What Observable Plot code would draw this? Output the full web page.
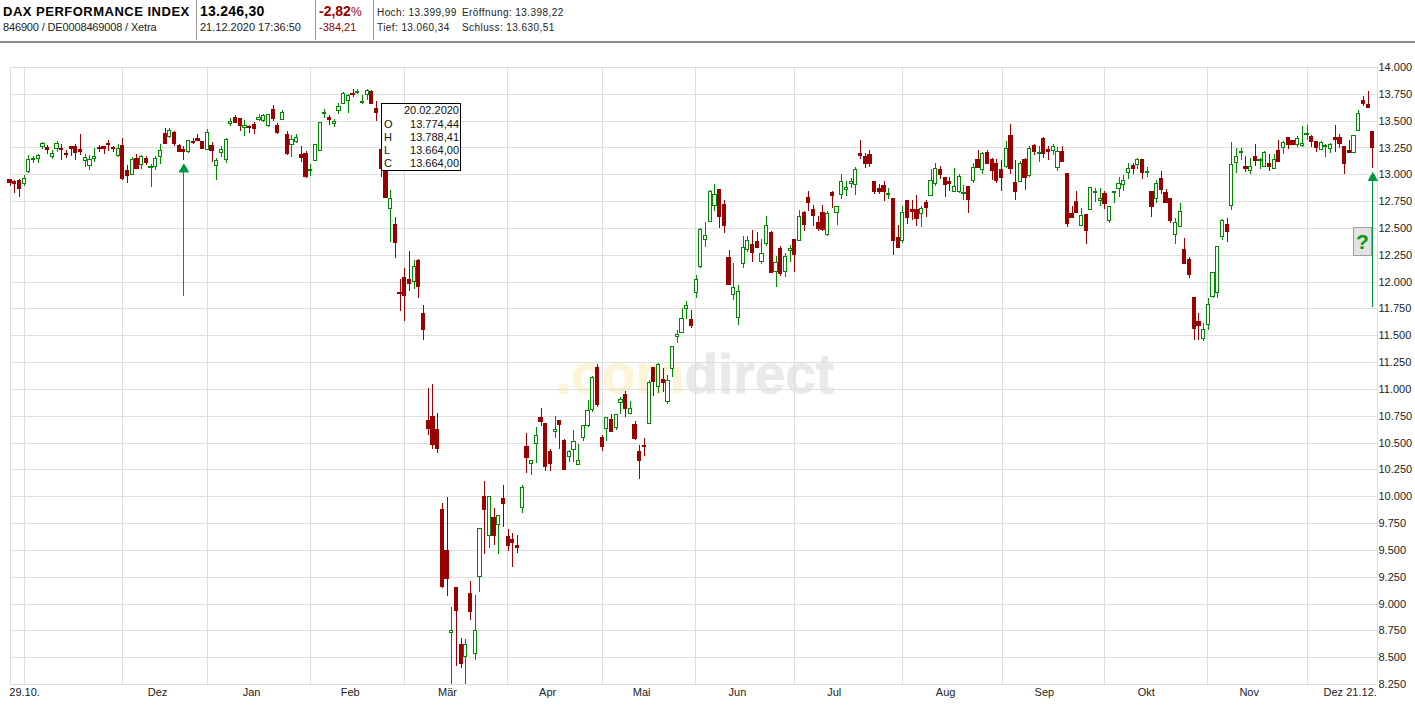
<!DOCTYPE html>
<html lang="de">
<head>
<meta charset="utf-8">
<title>DAX Performance Index</title>
<script src="https://cdn.jsdelivr.net/npm/d3@7"></script>
<script src="https://cdn.jsdelivr.net/npm/@observablehq/plot@0.6"></script>
<style>
html,body{margin:0;padding:0;background:#fff;}
#root{position:relative;width:1415px;height:705px;overflow:hidden;font-family:"Liberation Sans",Arial,sans-serif;color:#000;}
#head{position:relative;height:41px;border-bottom:2px solid #8c8c8c;}
#head span,#head i{position:absolute;white-space:nowrap;font-style:normal;}
#head i{top:0;width:1px;height:40px;background:#999;}
.s{font-size:10px;letter-spacing:.42px;color:#222;}
.m{font-size:11px;color:#222;}
#wm{position:absolute;left:556px;top:339px;font:bold 55px "Liberation Sans",Arial,sans-serif;white-space:nowrap;filter:blur(.6px);z-index:0;line-height:70px;-webkit-text-stroke:.8px;}
#wm b:first-child{color:#fdf4d8;}#wm b:last-child{color:#e9e9e9;}
#chart{position:relative;z-index:1;}
#tip{position:absolute;left:381px;top:103px;width:78px;height:66px;border:1px solid #000;background:#fff;z-index:2;font-size:11px;line-height:13px;color:#111;}
#tip div{display:flex;justify-content:space-between;padding:0 1px 0 2px;}
#tip div:first-child{justify-content:flex-end;margin-bottom:1px;}
#q{position:absolute;left:1353px;top:227px;width:17px;height:27px;background:#e2e2e2;border:1px solid #a0a0a0;z-index:2;color:#0a9a12;font:bold 21px/27px "Liberation Sans",Arial,sans-serif;text-align:center;}
</style>
</head>
<body>
<div id="root">
  <div id="head">
    <span style="left:3px;top:4px;font-size:13px;font-weight:bold;letter-spacing:.5px">DAX PERFORMANCE INDEX</span>
    <span class="m" style="left:3px;top:21px;letter-spacing:-.15px">846900 / DE0008469008 / Xetra</span>
    <i style="left:196px"></i>
    <span style="left:200px;top:3px;font-size:14px;font-weight:bold;letter-spacing:.25px">13.246,30</span>
    <span class="m" style="left:200px;top:21px">21.12.2020 17:36:50</span>
    <i style="left:315px"></i>
    <span style="left:319px;top:3px;font-size:14px;font-weight:bold;color:#990000">-2,82<span style="position:static;font-weight:normal;font-size:12px">%</span></span>
    <span class="m" style="left:319px;top:21px;color:#990000">-384,21</span>
    <i style="left:373px"></i>
    <span class="s" style="left:377px;top:7px">Hoch: 13.399,99</span>
    <span class="s" style="left:462px;top:7px">Eröffnung: 13.398,22</span>
    <span class="s" style="left:377px;top:22px">Tief: 13.060,34</span>
    <span class="s" style="left:462px;top:22px">Schluss: 13.630,51</span>
  </div>
  <div id="wm"><b>.com</b><b>direct</b></div>
  <div id="chart"></div>
  <div id="tip">
    <div><span>20.02.2020</span></div>
    <div><span>O</span><span>13.774,44</span></div>
    <div><span>H</span><span>13.788,41</span></div>
    <div><span>L</span><span>13.664,00</span></div>
    <div><span>C</span><span>13.664,00</span></div>
  </div>
  <div id="q">?</div>
</div>
<script>
const highs = [
12957,12947,12957,12991,13176,13170,13185,13297,13275,13226,
13306,13278,13226,13263,13278,13374,13185,13176,13241,13269,
13263,13318,13266,13287,13337,13087,13158,13189,13179,13173,
13096,13173,13287,13430,13430,13402,13287,13263,13321,13334,
13380,13315,13426,13303,13148,13266,13334,13522,13550,13528,
13504,13464,13485,13559,13565,13562,13643,13482,13603,13402,
13365,13371,13263,13216,13096,13284,13491,13606,13556,13519,
13667,13763,13745,13791,13794,13735,13791,13788,13683,13287,
13040,12855,12602,12021,12129,12281,12206,12213,11780,11011,
11048,10779,9941,9997,8972,9158,8679,8670,9211,9080,
9705,10143,10000,9892,9826,10106,9696,9659,9634,10109,
10593,10342,10648,10818,10679,10438,10750,10707,10531,10429,
10614,10485,10658,10899,11124,11232,10574,10732,10769,10760,
10920,10982,10883,10698,10475,10546,11087,11198,11242,11195,
11134,11397,11549,11752,11817,11734,12058,12503,12556,12852,
12911,12862,12763,12299,12170,11966,12429,12429,12482,12460,
12398,12615,12475,12234,12336,12262,12343,12392,12669,12660,
12846,12710,12608,12716,12660,12846,12706,13003,12938,12963,
13065,13318,13198,13226,12935,12910,12935,12870,12771,12530,
12706,12765,12762,12805,12706,12762,13046,13105,13077,12975,
12975,13059,13000,12901,12886,13105,13226,13207,13226,13148,
13142,13136,13309,13467,13136,13124,13155,13263,13285,13263,
13346,13263,13285,13254,13266,13006,12707,12840,12688,12633,
12883,12874,12874,12849,12697,12846,12979,12997,13108,13108,
13155,13136,13071,12849,12951,13034,12861,12775,12589,12728,
12402,12226,11855,11706,11614,11846,12083,12324,12587,12596,
13303,13244,13247,13173,13148,13278,13154,13216,13192,13185,
13318,13309,13349,13324,13358,13448,13463,13364,13309,13312,
13284,13296,13457,13380,13266,13318,13368,13596,13729,13772,13400];
const lows = [
12892,12830,12793,12895,13015,13108,13108,13232,13189,13139,
13207,13133,13155,13170,13133,13179,13071,13040,13117,13204,
13189,13216,13207,13161,12947,12923,12997,13053,13049,13090,
12886,13040,13096,13278,13340,13266,13210,13133,13201,13281,
13309,13241,13226,13117,12951,13158,13108,13451,13479,13405,
13358,13386,13380,13498,13488,13445,13494,13377,13504,13179,
13161,13290,13111,12969,12985,13127,13219,13525,13457,13439,
13559,13655,13572,13720,13751,13652,13695,13664,13497,12978,
12778,12367,12219,11727,11635,11913,11931,11848,11459,10569,
10439,10399,9143,9068,8254,8421,8403,8254,8844,8477,
9105,9460,9522,9543,9460,9711,9494,9338,9469,9842,
10219,10197,10312,10651,10237,10237,10540,10441,10247,10321,
10321,10293,10515,10642,10784,10831,10423,10515,10599,10614,
10769,10738,10766,10522,10163,10373,10670,10933,10964,10970,
10855,11110,11428,11518,11650,11570,11845,12129,12318,12556,
12661,12497,12457,11966,11827,11595,12123,12272,12179,12318,
12160,12330,12089,11947,12052,12043,12179,12086,12376,12475,
12654,12515,12469,12475,12422,12688,12530,12774,12799,12870,
12811,13142,13062,13071,12812,12812,12747,12774,12252,12320,
12363,12537,12577,12521,12512,12604,12802,12889,12957,12793,
12846,12836,12827,12756,12635,12923,13059,13003,13093,12947,
12923,12849,13062,13006,12756,12926,12858,12972,13183,13118,
13155,13136,13183,13034,13121,12506,12599,12648,12515,12348,
12667,12738,12700,12673,12543,12728,12784,12840,12960,13003,
13053,12960,12979,12599,12734,12821,12728,12546,12348,12518,
12173,12034,11456,11456,11447,11552,11849,11849,12392,12365,
12669,13012,13130,13021,13003,13074,13049,13068,13031,13049,
13123,13188,13235,13275,13259,13253,13324,13256,13207,13222,
13161,13198,13210,13241,13003,13195,13207,13405,13640,13615,13060];
const opens = [
12947,12935,12938,12914,13025,13136,13148,13260,13250,13164,
13241,13244,13195,13263,13263,13232,13130,13083,13148,13250,
13263,13290,13250,13173,13272,13040,13000,13151,13090,13148,
13065,13074,13167,13383,13349,13392,13269,13235,13210,13309,
13334,13309,13232,13269,13083,13204,13139,13470,13532,13522,
13436,13448,13467,13507,13498,13451,13603,13457,13510,13374,
13278,13309,13189,13198,13037,13133,13222,13566,13532,13473,
13599,13664,13692,13757,13766,13667,13748,13774,13612,13235,
13040,12685,12528,11900,12036,12021,12000,12197,11703,10702,
10739,10618,9876,9494,8732,9149,8614,8502,9090,8537,
9248,9994,9630,9798,9733,9976,9621,9596,9540,9892,
10463,10302,10488,10732,10676,10417,10599,10707,10522,10367,
10435,10293,10546,10655,10806,11195,10546,10630,10713,10636,
10877,10945,10775,10667,10417,10475,10682,11198,11025,11087,
10886,11190,11487,11524,11746,11650,11895,12142,12389,12562,
12710,12856,12717,12222,11876,11666,12167,12302,12343,12374,
12191,12358,12454,12098,12309,12092,12287,12392,12382,12648,
12781,12669,12549,12642,12441,12827,12645,12815,12861,12917,
12901,13198,13170,13189,12929,12870,12892,12815,12771,12410,
12379,12753,12669,12669,12639,12734,12805,12917,13049,12966,
12929,12839,12842,12824,12883,12941,13142,13046,13207,13142,
13105,13043,13074,13359,12923,12935,13136,12991,13272,13198,
13337,13229,13223,13065,13217,13006,12636,12744,12527,12626,
12673,12827,12759,12818,12565,12827,12864,12908,13013,13081,
13087,13136,13019,12840,12778,12960,12830,12775,12435,12518,
12300,12204,11855,11632,11472,11601,11858,11898,12417,12532,
12712,13108,13201,13077,13034,13170,13127,13077,13105,13052,
13222,13247,13346,13318,13275,13266,13368,13349,13306,13228,
13256,13244,13346,13346,13263,13225,13207,13411,13689,13652,13398];
const closes = [
12926,12914,12867,12963,13139,13148,13176,13287,13229,13195,
13287,13229,13185,13238,13201,13216,13158,13139,13167,13238,
13238,13275,13238,13241,12957,12988,13139,13053,13167,13108,
13077,13148,13222,13284,13408,13284,13216,13210,13312,13294,
13318,13244,13389,13219,13130,13232,13324,13491,13479,13451,
13457,13433,13423,13528,13550,13556,13516,13386,13575,13198,
13324,13343,13155,12975,13046,13278,13482,13575,13507,13491,
13630,13754,13739,13742,13776,13677,13785,13664,13572,13056,
12787,12778,12367,11885,11866,11987,12138,11950,11551,10634,
10485,10448,9161,9236,8748,8937,8443,8614,8928,8745,
9702,9879,10000,9637,9823,9935,9543,9571,9525,10078,
10358,10330,10565,10692,10274,10302,10621,10673,10247,10414,
10509,10333,10655,10797,11103,10859,10460,10729,10599,10760,
10899,10821,10815,10540,10330,10460,11056,11069,11223,11062,
11075,11397,11508,11657,11777,11589,12018,12482,12426,12843,
12815,12605,12522,11969,11944,11907,12315,12380,12272,12321,
12259,12519,12089,12176,12080,12231,12306,12256,12611,12533,
12734,12614,12496,12487,12639,12802,12703,12935,12879,12932,
13049,13173,13099,13099,12839,12839,12836,12824,12385,12320,
12648,12598,12654,12589,12679,12691,12944,13056,12997,12904,
12914,12889,12981,12833,12765,13068,13062,13195,13099,13034,
12941,12972,13244,13056,12843,13105,12972,13244,13213,13207,
13195,13213,13260,13217,13121,12546,12602,12648,12614,12472,
12874,12836,12772,12731,12697,12836,12911,12938,13050,13056,
13142,13019,13028,12700,12911,12861,12734,12565,12549,12651,
12173,12062,11561,11595,11555,11787,12083,12324,12566,12467,
13093,13167,13216,13052,13071,13133,13142,13207,13077,13139,
13123,13296,13281,13278,13334,13287,13383,13309,13247,13300,
13272,13281,13327,13290,13105,13201,13364,13565,13661,13624,13246];

const yTicks = [8250,8500,8750,9000,9250,9500,9750,10000,10250,10500,10750,11000,11250,11500,11750,12000,12250,12500,12750,13000,13250,13500,13750,14000];
const monthStarts = [3.1,24,42.1,64,84,105.9,126,145.9,167,190,211.1,233,254.9,276];
const xLabels = ["29.10.","Dez","Jan","Feb","Mär","Apr","Mai","Jun","Jul","Aug","Sep","Okt","Nov","Dez","21.12."];
const xLabelAt = [3.1,31.4,51.4,72.4,93.1,114.4,134.4,154.8,175.4,199.1,220.1,241.8,263.7,281.6,287.6];
const signalAt = [37,290];
const signalTop = [13052,12971];
const signalEnd = [11866,11766];

const firstX = 0.1, lastX = 291;
const RED = "#990000", GREEN = "#008800", SIGNAL = "#009640", GRID = "#dedede";
const candles = highs.map((h,i)=>({i,high:h,low:lows[i],open:opens[i],close:closes[i],up:closes[i]>=opens[i]}));
const signals = signalAt.map((i,k)=>({i,top:signalTop[k],end:signalEnd[k]}));
const deNum = v => d3.format(",")(v).replace(/,/g,".");
const half = 0.34;

const plot = Plot.plot({
  width:1415, height:662,
  marginLeft:10, marginRight:38, marginTop:24, marginBottom:21,
  style:{fontFamily:"Liberation Sans, Arial, sans-serif",fontSize:"11px",color:"#222",background:"transparent",shapeRendering:"crispEdges"},
  x:{type:"linear",domain:[firstX,lastX],label:null},
  y:{type:"linear",domain:[8250,14000],label:null},
  marks:[
    Plot.ruleY(yTicks,{stroke:GRID,strokeWidth:1}),
    Plot.ruleX([firstX,...monthStarts,lastX],{stroke:GRID,strokeWidth:1}),
    Plot.ruleX(candles,{x:"i",y1:"low",y2:"high",stroke:d=>d.up?GREEN:RED,strokeWidth:1}),
    Plot.rect(candles,{x1:d=>d.i-half,x2:d=>d.i+half,y1:"open",y2:"close",
      fill:d=>d.up?"#fff":RED,stroke:d=>d.up?GREEN:RED,strokeWidth:1}),
    Plot.ruleX(signals,{x:"i",y1:"top",y2:"end",stroke:SIGNAL,strokeWidth:1}),
    Plot.dot(signals,{x:"i",y:"top",symbol:"triangle",r:3.6,fill:SIGNAL,stroke:SIGNAL,strokeWidth:0.5}),
    Plot.axisY({anchor:"right",ticks:yTicks,tickSize:0,tickPadding:1,tickFormat:deNum,label:null}),
    Plot.axisX({anchor:"bottom",ticks:xLabelAt,tickSize:0,tickPadding:4,label:null,
      tickFormat:d=>xLabels[xLabelAt.indexOf(d)]})
  ]
});
document.getElementById("chart").appendChild(plot);
</script>
</body>
</html>
